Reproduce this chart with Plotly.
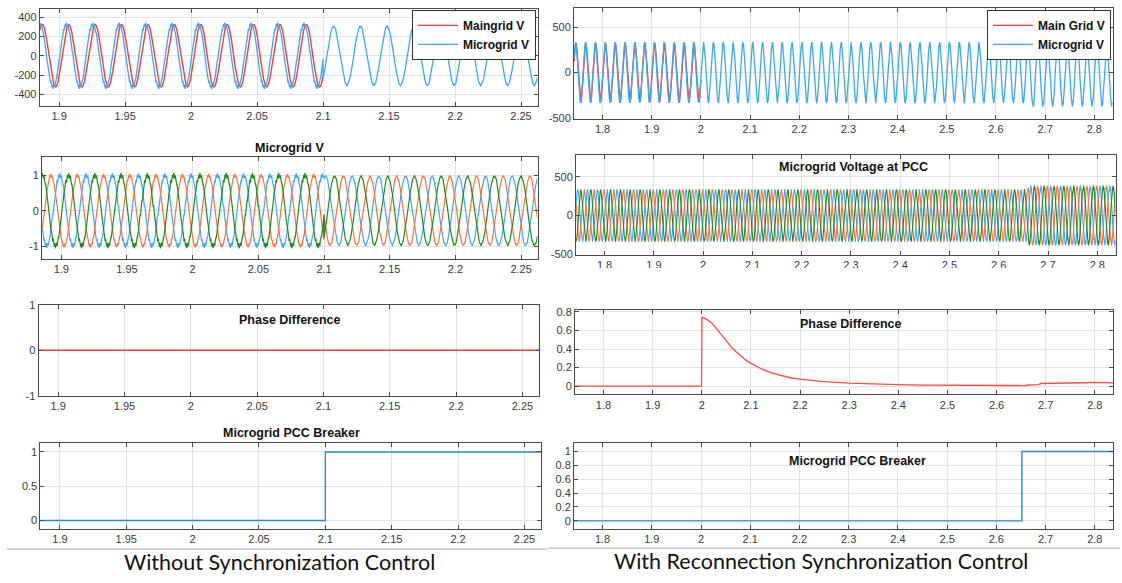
import numpy as np
import plotly.graph_objects as go

W, H = 1122, 583

# ------------------------------------------------------------------ data
# time windows of the two columns (s)
left_t_range = [1.8853, 2.2625]
right_t_range = [1.742, 2.837]

# --- left column, panel 1: Maingrid V (red) and Microgrid V (blue) ---
left_main_start = [1.8853]
left_main_end = [2.1]
left_main_amp = [325.0]
left_main_freq = [50.0]
left_main_peak = [1.9073]          # time of one positive peak
left_main_ripple = [0.0]           # fraction of amplitude

left_micro_start = [1.8853, 2.1]
left_micro_end = [2.1, 2.2625]
left_micro_amp = [325.0, 305.0]
left_micro_freq = [50.0, 49.3]
left_micro_peak = [1.9055, 2.108]
left_micro_ripple = [0.07, 0.025]

# --- left column, panel 2: normalised three-phase microgrid voltage ---
left_3ph_start = [1.8853, 2.1]
left_3ph_end = [2.1, 2.2625]
left_3ph_amp = [1.0, 0.97]
left_3ph_freq = [50.0, 49.3]
left_3ph_peak_green = [1.9055, 2.108]
left_3ph_ripple_blue = [0.07, 0.02]
left_3ph_ripple_orange = [0.05, 0.02]
left_3ph_ripple_green = [0.08, 0.02]

# --- left column, panels 3 and 4 ---
left_phase_t = [1.8853, 2.2625]
left_phase_v = [0.0, 0.0]
left_brk_t = [1.8853, 2.1, 2.1, 2.2625]
left_brk_v = [0, 0, 1, 1]

# --- right column, panel 1: Main Grid V (red) and Microgrid V (blue) ---
right_main_start = [1.742]
right_main_end = [2.0]
right_main_amp = [325.0]
right_main_freq = [50.0]
right_main_peak = [1.7458]
right_main_ripple = [0.0]
right_main_offset = [0.0]

right_micro_start = [1.742, 2.0, 2.66]
right_micro_end = [2.0, 2.66, 2.837]
right_micro_amp = [325.0, 325.0, 340.0]
right_micro_freq = [50.0, 50.0, 50.0]
right_micro_peak = [1.7455, 2.0055, 2.6655]
right_micro_ripple = [0.03, 0.04, 0.07]
right_micro_offset = [0.0, 0.0, -15.0]

# --- right column, panel 2: three-phase microgrid voltage at PCC ---
right_3ph_start = [1.742, 2.66]
right_3ph_end = [2.66, 2.837]
right_3ph_amp = [325.0, 360.0]
right_3ph_freq = [50.0, 50.0]
right_3ph_peak_blue = [1.7455, 2.6655]
right_3ph_ripple = [0.05, 0.09]

# --- right column, panel 3: phase difference ---
right_phase_t = [1.742, 1.9995, 2.0005, 2.005, 2.01, 2.02, 2.03, 2.04, 2.05, 2.06,
                 2.07, 2.08, 2.09, 2.10, 2.12, 2.14, 2.16, 2.18, 2.20, 2.25,
                 2.30, 2.35, 2.40, 2.45, 2.50, 2.55, 2.60, 2.655, 2.665, 2.685,
                 2.69, 2.72, 2.75, 2.78, 2.80, 2.82, 2.837]
right_phase_v = [0.0, 0.0, 0.74, 0.735, 0.72, 0.68, 0.62, 0.55, 0.48, 0.42,
                 0.37, 0.32, 0.28, 0.245, 0.19, 0.145, 0.115, 0.09, 0.075, 0.048,
                 0.032, 0.022, 0.015, 0.011, 0.009, 0.007, 0.006, 0.006, 0.012, 0.015,
                 0.028, 0.028, 0.030, 0.036, 0.040, 0.035, 0.035]

# --- right column, panel 4: breaker ---
right_brk_t = [1.742, 2.652, 2.652, 2.837]
right_brk_v = [0, 0, 1, 1]

# tick values / labels
left_xticks = [1.9, 1.95, 2.0, 2.05, 2.1, 2.15, 2.2, 2.25]
left_xlabels = ["1.9", "1.95", "2", "2.05", "2.1", "2.15", "2.2", "2.25"]
right_xticks = [1.8, 1.9, 2.0, 2.1, 2.2, 2.3, 2.4, 2.5, 2.6, 2.7, 2.8]
right_xlabels = ["1.8", "1.9", "2", "2.1", "2.2", "2.3", "2.4", "2.5", "2.6", "2.7", "2.8"]

captions = ["Without Synchronization Control", "With Reconnection Synchronization Control"]

# ------------------------------------------------------------------ helpers
RIPPLE_ORDERS = [17, 29]


def wave(starts, ends, amps, freqs, peaks, ripples, offsets=None, shift=0.0, fs=20000):
    ts, ys = [], []
    for i in range(len(starts)):
        t = np.arange(starts[i], ends[i], 1.0 / fs)
        t = np.append(t, ends[i])
        f = freqs[i]
        ph = 2 * np.pi * f * (t - peaks[i] - shift / f)
        y = amps[i] * np.cos(ph)
        r = ripples[i] * amps[i]
        y = y + r * 0.6 * np.sin(RIPPLE_ORDERS[0] * ph + 0.7) + r * 0.4 * np.sin(RIPPLE_ORDERS[1] * ph + 1.9)
        if offsets is not None:
            y = y + offsets[i]
        ts.append(t)
        ys.append(y)
    return np.concatenate(ts), np.concatenate(ys)


RED = "#f23b3b"
BLUE = "#3aa8f5"
ORANGE = "#ff6f3c"
GREEN = "#1e8a1e"
BRK_BLUE = "#2a8ad6"

fig = go.Figure()

# left panel 1
t, y = wave(left_main_start, left_main_end, left_main_amp, left_main_freq, left_main_peak, left_main_ripple)
fig.add_trace(go.Scatter(x=t, y=y, mode="lines", line=dict(color=RED, width=1.4), name="Maingrid V",
                         xaxis="x", yaxis="y", legend="legend"))
t, y = wave(left_micro_start, left_micro_end, left_micro_amp, left_micro_freq, left_micro_peak, left_micro_ripple)
fig.add_trace(go.Scatter(x=t, y=y, mode="lines", line=dict(color=BLUE, width=1.3), name="Microgrid V",
                         xaxis="x", yaxis="y", legend="legend"))

# left panel 2 (blue leads orange leads green by 120 deg)
for col, sh, rip in [(BLUE, -1 / 3, left_3ph_ripple_blue), (ORANGE, -2 / 3, left_3ph_ripple_orange),
                     (GREEN, 0.0, left_3ph_ripple_green)]:
    t, y = wave(left_3ph_start, left_3ph_end, left_3ph_amp, left_3ph_freq, left_3ph_peak_green, rip, shift=sh)
    fig.add_trace(go.Scatter(x=t, y=y, mode="lines", line=dict(color=col, width=1.2), showlegend=False,
                             xaxis="x2", yaxis="y2"))

# left panel 3 / 4
fig.add_trace(go.Scatter(x=left_phase_t, y=left_phase_v, mode="lines", line=dict(color=RED, width=1.4),
                         showlegend=False, xaxis="x3", yaxis="y3"))
fig.add_trace(go.Scatter(x=left_brk_t, y=left_brk_v, mode="lines", line=dict(color=BRK_BLUE, width=1.4),
                         showlegend=False, xaxis="x4", yaxis="y4"))

# right panel 1
t, y = wave(right_main_start, right_main_end, right_main_amp, right_main_freq, right_main_peak,
            right_main_ripple, right_main_offset, fs=12000)
fig.add_trace(go.Scatter(x=t, y=y, mode="lines", line=dict(color=RED, width=1.4), name="Main Grid V",
                         xaxis="x5", yaxis="y5", legend="legend2"))
t, y = wave(right_micro_start, right_micro_end, right_micro_amp, right_micro_freq, right_micro_peak,
            right_micro_ripple, right_micro_offset, fs=12000)
fig.add_trace(go.Scatter(x=t, y=y, mode="lines", line=dict(color=BLUE, width=1.3), name="Microgrid V",
                         xaxis="x5", yaxis="y5", legend="legend2"))

# right panel 2
for col, sh in [(BLUE, 0.0), (ORANGE, -1 / 3), (GREEN, -2 / 3)]:
    t, y = wave(right_3ph_start, right_3ph_end, right_3ph_amp, right_3ph_freq, right_3ph_peak_blue,
                right_3ph_ripple, shift=sh, fs=12000)
    fig.add_trace(go.Scatter(x=t, y=y, mode="lines", line=dict(color=col, width=1.1), showlegend=False,
                             xaxis="x6", yaxis="y6"))

# right panel 3 / 4
fig.add_trace(go.Scatter(x=right_phase_t, y=right_phase_v, mode="lines", line=dict(color="#ff4a4a", width=1.3),
                         showlegend=False, xaxis="x7", yaxis="y7"))
fig.add_trace(go.Scatter(x=right_brk_t, y=right_brk_v, mode="lines", line=dict(color=BRK_BLUE, width=1.4),
                         showlegend=False, xaxis="x8", yaxis="y8"))

# ------------------------------------------------------------------ layout
# plot boxes in pixels: (x0, x1, ytop, ybottom)
boxes = {
    1: (39.7, 537.5, 3.0, 102.0),
    2: (42.0, 537.5, 154.0, 258.5),
    3: (38.6, 539.0, 305.0, 398.0),
    4: (40.4, 541.0, 446.0, 534.0),
    5: (574.0, 1112.5, 2.5, 115.0),
    6: (576.0, 1115.5, 152.0, 254.0),
    7: (575.0, 1113.0, 310.5, 396.5),
    8: (574.0, 1113.0, 446.5, 534.0),
}
yranges = {
    1: [-520, 485], 2: [-1.37, 1.52], 3: [-1, 1], 4: [-0.124, 1.133],
    5: [-505, 704], 6: [-505, 780], 7: [-0.089, 0.82], 8: [-0.117, 1.117],
}
yticks = {
    1: [-400, -200, 0, 200, 400], 2: [-1, 0, 1], 3: [-1, 0, 1], 4: [0, 0.5, 1],
    5: [-500, 0, 500], 6: [-500, 0, 500], 7: [0, 0.2, 0.4, 0.6, 0.8], 8: [0, 0.2, 0.4, 0.6, 0.8, 1],
}
ylabels = {
    1: ["-400", "-200", "0", "200", "400"], 2: ["-1", "0", "1"], 3: ["-1", "0", "1"], 4: ["0", "0.5", "1"],
    5: ["-500", "0", "500"], 6: ["-500", "0", "500"], 7: ["0", "0.2", "0.4", "0.6", "0.8"],
    8: ["0", "0.2", "0.4", "0.6", "0.8", "1"],
}

AX_COLOR = "#4a4a4a"
GRID = "#e3e3e3"
TICKFONT = dict(family="Liberation Sans, Arial", size=11, color="#3a3a3a")

for i in range(1, 9):
    x0, x1, yt, yb = boxes[i]
    left = i <= 4
    sx = "" if i == 1 else str(i)
    fig.layout["xaxis" + sx] = dict(
        domain=[x0 / W, x1 / W], anchor="y" + sx,
        range=left_t_range if left else right_t_range,
        tickmode="array", tickvals=left_xticks if left else right_xticks,
        ticktext=left_xlabels if left else right_xlabels,
        showline=True, mirror="ticks", linecolor=AX_COLOR, linewidth=1,
        ticks="inside", ticklen=4, tickcolor=AX_COLOR,
        showgrid=True, gridcolor=GRID, gridwidth=1, zeroline=False,
        tickfont=TICKFONT, fixedrange=True,
    )
    fig.layout["yaxis" + sx] = dict(
        domain=[1 - yb / H, 1 - yt / H], anchor="x" + sx,
        range=yranges[i], tickmode="array", tickvals=yticks[i], ticktext=ylabels[i],
        showline=True, mirror="ticks", linecolor=AX_COLOR, linewidth=1,
        ticks="inside", ticklen=4, tickcolor=AX_COLOR,
        showgrid=True, gridcolor=GRID, gridwidth=1, zeroline=False,
        tickfont=TICKFONT, fixedrange=True,
    )

TITLEFONT = dict(family="Liberation Sans, Arial", size=12.5, color="#111111", weight=700)
titles = [
    ("Microgrid V", 289.6, 145.0),
    ("Phase Difference", 289.5, 321.0),
    ("Microgrid PCC Breaker", 291.0, 436.0),
    ("Microgrid Voltage at PCC", 853.0, 164.0),
    ("Phase Difference", 850.0, 325.0),
    ("Microgrid PCC Breaker", 857.0, 465.0),
]
annotations = []
for txt, px, py in titles:
    annotations.append(dict(text=txt, x=px / W, y=1 - py / H, xref="paper", yref="paper",
                            xanchor="center", yanchor="middle", showarrow=False, font=TITLEFONT))
CAPFONT = dict(family="Lato, Carlito, Calibri, sans-serif", size=21.5, color="#111111")
for txt, px, py in [(captions[0], 279.0, 567.5), (captions[1], 821.0, 567.0)]:
    annotations.append(dict(text=txt, x=px / W, y=1 - py / H, xref="paper", yref="paper",
                            xanchor="center", yanchor="middle", showarrow=False, font=CAPFONT))

shapes = [
    # separator rules under the two columns
    dict(type="line", xref="paper", yref="paper", x0=7 / W, x1=547 / W, y0=1 - 554.5 / H, y1=1 - 554.5 / H,
         line=dict(color="#a8a8a8", width=1)),
    dict(type="line", xref="paper", yref="paper", x0=548 / W, x1=1120 / W, y0=1 - 553.5 / H, y1=1 - 553.5 / H,
         line=dict(color="#a8a8a8", width=1)),
    # cropped tick labels under the PCC voltage panel
    dict(type="rect", xref="paper", yref="paper", x0=560 / W, x1=1122 / W, y0=1 - 290 / H, y1=1 - 267.5 / H,
         fillcolor="white", line=dict(width=0), layer="above"),
]

LEGFONT = dict(family="Liberation Sans, Arial", size=12, color="#111111", weight=700)
fig.update_layout(
    width=W, height=H, margin=dict(l=0, r=0, t=0, b=0),
    paper_bgcolor="white", plot_bgcolor="white",
    annotations=annotations, shapes=shapes,
    legend=dict(x=536 / W, y=1 - 4 / H, xanchor="right", yanchor="top", bgcolor="white",
                bordercolor="#333333", borderwidth=1, font=LEGFONT, itemwidth=40,
                tracegroupgap=0),
    legend2=dict(x=1111 / W, y=1 - 4 / H, xanchor="right", yanchor="top", bgcolor="white",
                 bordercolor="#333333", borderwidth=1, font=LEGFONT, itemwidth=40,
                 tracegroupgap=0),
)

fig.write_html(
    "out.html",
    config={"displayModeBar": False},
    post_script="document.body.style.margin='0';document.body.style.padding='0';"
                "document.body.style.overflow='hidden';",
)
